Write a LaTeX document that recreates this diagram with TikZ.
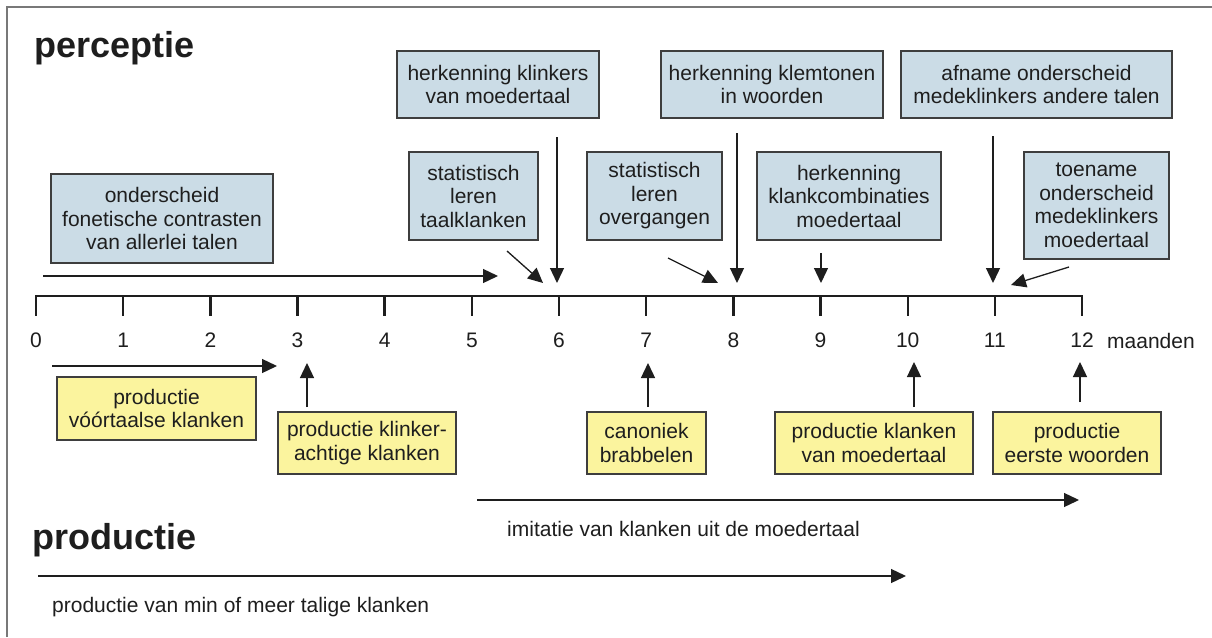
\documentclass[tikz,border=0pt]{standalone}
\usepackage{fontspec}
\setmainfont{Liberation Sans}
\usetikzlibrary{arrows.meta}

\definecolor{percfill}{RGB}{203,220,230}
\definecolor{prodfill}{RGB}{251,244,158}
\definecolor{boxline}{RGB}{62,62,62}
\definecolor{inkcol}{RGB}{30,30,30}
\definecolor{framecol}{RGB}{120,120,120}

\tikzset{
  txt/.style={font=\fontsize{21}{23.5}\selectfont, text=inkcol, align=center, inner sep=0pt},
  perc/.style={txt, draw=boxline, line width=1.4pt, fill=percfill},
  prod/.style={txt, draw=boxline, line width=1.4pt, fill=prodfill},
  sz/.style 2 args={minimum width=#1pt, minimum height=#2pt},
  arr/.style={draw=inkcol, line width=1.3pt, -{Triangle[length=15pt,width=14pt]}},
  title/.style={font=\fontsize{36}{40}\selectfont\bfseries, text=inkcol, inner sep=0pt, anchor=base west},
  axisline/.style={draw=inkcol, line width=2.4pt},
}

\begin{document}
\begin{tikzpicture}[x=1pt,y=-1pt]
\useasboundingbox (0,0) rectangle (1212,637);
\fill[white] (0,0) rectangle (1212,637);

% outer frame (open to the right and bottom)
\draw[framecol, line width=2pt] (7,637) -- (7,7) -- (1212,7);

% titles
\node[title] (ttlperc) at (34,57) {perceptie};
\node[title] (ttlprod) at (32,549) {productie};

% time axis with ticks and month labels
\foreach \k in {0,...,12} {
  \coordinate (t\k) at ({36+87.17*\k},296);
  \coordinate (tb\k) at ({36+87.17*\k},316);
  \node[txt] (lab\k) at ({36+87.17*\k},340) {\k};
}
\draw[axisline, line cap=rect] (t0) -- (t12);
\foreach \k in {0,...,12} { \draw[axisline] (t\k) -- (tb\k); }
\node[txt, anchor=west] (unit) at (1107,341) {maanden};

% perception boxes
\node[perc, sz={222}{89}]  (onder) at (162,218.5) {onderscheid\\fonetische contrasten\\van allerlei talen};
\node[perc, sz={202}{67}]  (hkl)   at (498,84.5)  {herkenning klinkers\\van moedertaal};
\node[perc, sz={129}{88}]  (stat1) at (473.5,196) {statistisch\\leren\\taalklanken};
\node[perc, sz={222}{67}]  (hklem) at (772,84.5)  {herkenning klemtonen\\in woorden};
\node[perc, sz={135}{88}]  (stat2) at (654.5,196) {statistisch\\leren\\overgangen};
\node[perc, sz={184}{88}]  (hkc)   at (849,196)   {herkenning\\klankcombinaties\\moedertaal};
\node[perc, sz={271}{67}]  (afn)   at (1036.5,84.5) {afname onderscheid\\medeklinkers andere talen};
\node[perc, sz={145}{107}] (toe)   at (1096.5,205.5) {toename\\onderscheid\\medeklinkers\\moedertaal};

% production boxes
\node[prod, sz={199}{63}] (pvk) at (156.5,408.5) {productie\\vóórtaalse klanken};
\node[prod, sz={178}{62}] (pka) at (367,443)    {productie klinker-\\achtige klanken};
\node[prod, sz={119}{62}] (can) at (646.5,443)  {canoniek\\brabbelen};
\node[prod, sz={198}{62}] (pkm) at (874,443)    {productie klanken\\van moedertaal};
\node[prod, sz={168}{62}] (pew) at (1077,443)   {productie\\eerste woorden};

% perception arrow ends
\coordinate (p1s) at (43,276);   \coordinate (p1e) at (498,276);
\coordinate (p2s) at (507,251);  \coordinate (p2e) at (543,283);
\coordinate (p3s) at (557,137);  \coordinate (p3e) at (557,283);
\coordinate (p4s) at (668,258);  \coordinate (p4e) at (718,283);
\coordinate (p5s) at (737,133);  \coordinate (p5e) at (737,283);
\coordinate (p6s) at (821,253);  \coordinate (p6e) at (821,283);
\coordinate (p7s) at (993,136);  \coordinate (p7e) at (993,283);
\coordinate (p8s) at (1069,267); \coordinate (p8e) at (1011,285);
\foreach \i in {1,...,8} { \draw[arr] (p\i s) -- (p\i e); }

% production arrow ends
\coordinate (q1s) at (52,366);   \coordinate (q1e) at (277,366);
\coordinate (q2s) at (307,407);  \coordinate (q2e) at (307,363);
\coordinate (q3s) at (648,407);  \coordinate (q3e) at (648,363);
\coordinate (q4s) at (914,407);  \coordinate (q4e) at (914,362);
\coordinate (q5s) at (1080,402); \coordinate (q5e) at (1080,362);
\coordinate (q6s) at (477,500);  \coordinate (q6e) at (1079,500);
\coordinate (q7s) at (38,576);   \coordinate (q7e) at (906,576);
\foreach \i in {1,...,7} { \draw[arr] (q\i s) -- (q\i e); }

% phase labels
\node[txt, anchor=west] (imit) at (507,529) {imitatie van klanken uit de moedertaal};
\node[txt, anchor=west] (minmeer) at (52,607) {productie van min of meer talige klanken};
\end{tikzpicture}
\end{document}
